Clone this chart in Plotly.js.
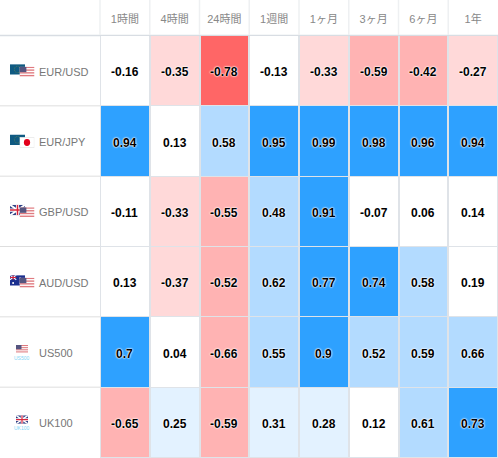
<!DOCTYPE html>
<html><head><meta charset="utf-8">
<script src="https://cdn.plot.ly/plotly-3.0.1.min.js"></script>
<style>html,body{margin:0;padding:0;background:#fff}#c{width:498px;height:458px}</style>
</head><body><div id="c"></div>
<script>
const periods = ['1時間','4時間','24時間','1週間','1ヶ月','3ヶ月','6ヶ月','1年'];
const instruments = ['EUR/USD','EUR/JPY','GBP/USD','AUD/USD','US500','UK100'];
const eurusd = ['-0.16','-0.35','-0.78','-0.13','-0.33','-0.59','-0.42','-0.27'];
const eurjpy = ['0.94','0.13','0.58','0.95','0.99','0.98','0.96','0.94'];
const gbpusd = ['-0.11','-0.33','-0.55','0.48','0.91','-0.07','0.06','0.14'];
const audusd = ['0.13','-0.37','-0.52','0.62','0.77','0.74','0.58','0.19'];
const us500  = ['0.7','0.04','-0.66','0.55','0.9','0.52','0.59','0.66'];
const uk100  = ['-0.65','0.25','-0.59','0.31','0.28','0.12','0.61','0.73'];
const rows = [eurusd,eurjpy,gbpusd,audusd,us500,uk100];

const W=498,H=458,LEFT=100,TOP=36;
const FONT='"Liberation Sans","Noto Sans CJK JP",Arial,sans-serif';
const px=x=>x/W, py=y=>1-y/H;
const rowH=(H-TOP)/rows.length;

// stepped colour scale over z in [-1,1]
const stops=[[-1,'#ff6666'],[-0.7,'#ffb3b3'],[-0.4,'#ffd9d9'],[-0.2,'#ffffff'],[0.2,'#e3f2ff'],[0.4,'#b3dbff'],[0.695,'#2ea1ff'],[1,null]];
const colorscale=[];
stops.slice(0,-1).forEach((s,i)=>{
  colorscale.push([(s[0]+1)/2,s[1]]);
  colorscale.push([(stops[i+1][0]+1)/2,s[1]]);
});

const trace={type:'heatmap',x:periods,y:instruments,z:rows.map(r=>r.map(Number)),
  zmin:-1,zmax:1,colorscale,showscale:false,xgap:2,ygap:1,hoverinfo:'x+y+z'};

const annotations=[];
rows.forEach((r,j)=>r.forEach((v,i)=>annotations.push({
  x:periods[i],y:instruments[j],xref:'x',yref:'y',yshift:-1,text:v,showarrow:false,
  font:{family:FONT,size:12,color:'#000',weight:700,shadow:'0 0 2px #fff, 0 0 2px #fff, 0 0 1px #fff'}})));
instruments.forEach((n,j)=>annotations.push({
  xref:'paper',yref:'paper',x:px(37),y:py(TOP+rowH*(j+0.5)+0.5),xanchor:'left',yanchor:'middle',
  text:n,showarrow:false,font:{family:FONT,size:11,color:'#777'}}));

const shapes=[];
const gl=(x0,y0,x1,y1,c,w)=>shapes.push({type:'line',xref:'paper',yref:'paper',layer:'below',
  x0:px(x0),y0:py(y0),x1:px(x1),y1:py(y1),line:{color:c,width:w||1}});
gl(0,35.5,W,35.5,'#d8dde3',1.5);
for(let j=1;j<rows.length;j++){const y=TOP+rowH*j-0.5;gl(0,y,LEFT,y,'#dedede',1);}
for(let i=0;i<periods.length;i++){const x=LEFT+(W-LEFT)/periods.length*i;gl(x,0,x,35,'#eef0f2',1.5);}

// flags
const svg=(w,h,b)=>'data:image/svg+xml;utf8,'+encodeURIComponent(`<svg xmlns="http://www.w3.org/2000/svg" width="${w}" height="${h}" viewBox="0 0 ${w} ${h}">${b}</svg>`);
const fUS=(()=>{let s='<rect width="24" height="16" fill="#fff"/>';for(let i=0;i<4;i++)s+=`<rect y="${i*4}" width="24" height="2" fill="#e07b80"/>`;return s+'<rect width="11" height="8" fill="#55557f"/>';})();
const fEU='<rect width="24" height="16" fill="#0f5a82"/><circle cx="12" cy="8" r="5" fill="none" stroke="#8a9a40" stroke-width="0.9" stroke-dasharray="1.2 1.4"/>';
const fJP='<rect x=".5" y=".5" width="23" height="15" fill="#fff" stroke="#e5e5e5"/><circle cx="12" cy="8" r="5" fill="#e3001b"/>';
const fUK='<rect width="24" height="16" fill="#2c3f85"/><path d="M0 0L24 16M24 0L0 16" stroke="#fff" stroke-width="3"/><path d="M12 0V16M0 8H24" stroke="#fff" stroke-width="5"/><path d="M12 0V16M0 8H24" stroke="#d8263c" stroke-width="2.4"/>';
const fAU='<rect width="24" height="16" fill="#1b2f8f"/><path d="M0 0L10 7M10 0L0 7" stroke="#fff" stroke-width="1.6"/><path d="M5 0V7M0 3.5H10" stroke="#d8263c" stroke-width="1.6"/><circle cx="16" cy="4" r="1" fill="#fff"/><circle cx="19" cy="8" r="1" fill="#fff"/><circle cx="16" cy="12" r="1" fill="#fff"/><circle cx="5" cy="12" r="1.6" fill="#fff"/>';
const flagPairs=[[fEU,fUS],[fEU,fJP],[fUK,fUS],[fAU,fUS]];
const images=[];
const img=(b,x,y,w,h)=>images.push({source:svg(24,16,b),xref:'paper',yref:'paper',x:px(x),y:py(y),sizex:w/W,sizey:h/H,xanchor:'left',yanchor:'top',sizing:'stretch',layer:'above'});
flagPairs.forEach((p,j)=>{const c=TOP+rowH*(j+0.5);img(p[0],10,c-7,15,10.5);img(p[1],19.5,c-4.5,15,11);});
[[fUS,'US500'],[fUK,'UK100']].forEach((p,k)=>{
  const c=TOP+rowH*(4+k+0.5);
  img(p[0],16,c-7.5,12,8.5);
  annotations.push({xref:'paper',yref:'paper',x:px(22),y:py(c+5.5),xanchor:'center',yanchor:'middle',text:p[1],showarrow:false,font:{family:FONT,size:5,color:'#7fd4f5'}});
});

Plotly.newPlot('c',[trace],{
  width:W,height:H,margin:{l:0,r:0,t:0,b:0,pad:0},autosize:false,
  paper_bgcolor:'#fff',plot_bgcolor:'#dfe3e8',
  xaxis:{domain:[LEFT/W,1],side:'top',type:'category',tickfont:{family:FONT,size:11,color:'#888'},ticks:'',ticklen:0,showgrid:false,zeroline:false,showline:false,automargin:false,fixedrange:true,ticklabelstandoff:10},
  yaxis:{domain:[0,1-TOP/H],type:'category',autorange:'reversed',showticklabels:false,ticks:'',showgrid:false,zeroline:false,showline:false,automargin:false,fixedrange:true},
  annotations,shapes,images,showlegend:false
},{displayModeBar:false,staticPlot:true});
</script></body></html>
